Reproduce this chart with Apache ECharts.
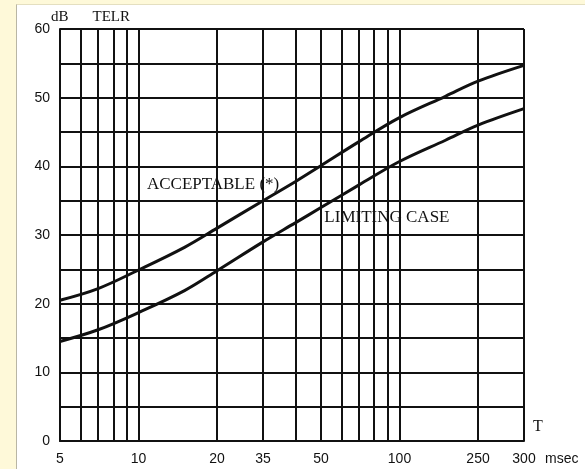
<!DOCTYPE html>
<html>
<head>
<meta charset="utf-8">
<script src="https://cdn.jsdelivr.net/npm/echarts@6/dist/echarts.min.js"></script>
<style>
  html, body { margin: 0; padding: 0; width: 585px; height: 469px; background: #fef9d9; overflow: hidden; }
  #panel { position: absolute; left: 16px; top: 4px; right: 0; bottom: 0; background: #ffffff;
           border-left: 1px solid #b9b6a4; border-top: 1px solid #e4dfc0; }
  #chart { position: absolute; left: 0; top: 0; width: 585px; height: 469px; }
</style>
</head>
<body>
<div id="panel"></div>
<div id="chart"></div>
<script>
// Echo delay T (msec) against talker echo loudness rating TELR (dB)
const delayT     = [5,    7,    10,   15,   20,   30,   40,   50,   70,   100,  150,  200,  300];
const acceptable = [20.5, 22.2, 24.9, 28.2, 31.0, 35.0, 37.8, 40.1, 43.6, 47.1, 50.2, 52.4, 54.7];
const limiting   = [14.5, 16.2, 18.7, 21.9, 24.8, 29.0, 31.8, 34.0, 37.3, 40.7, 43.8, 46.0, 48.4];

// Log-scale rulings and the printed labels under them
const gridT = [6, 7, 8, 9, 10, 20, 30, 40, 50, 60, 70, 80, 90, 100, 200, 300];
const tickValues = [5, 10, 20, 30, 50, 100, 200, 300];
const tickLabels = ['5', '10', '20', '35', '50', '100', '250', '300'];

// Curve captions, placed in data coordinates [T, dB]
const captionAcceptable = { text: 'ACCEPTABLE (*)', at: [19.3, 37.4] };
const captionLimiting = { text: 'LIMITING CASE', at: [89.5, 32.5] };

const serif = '"Liberation Serif", "Times New Roman", serif';
const sans = '"Liberation Sans", Arial, sans-serif';
const ink = '#111111';

function labelFor(v) {
  let best = 0;
  for (let i = 1; i < tickValues.length; i++) {
    if (Math.abs(Math.log(tickValues[i] / v)) < Math.abs(Math.log(tickValues[best] / v))) best = i;
  }
  return tickLabels[best];
}

const chart = echarts.init(document.getElementById('chart'), null, { renderer: 'canvas' });

const caption = (c) => ({
  coord: c.at,
  symbol: 'rect',
  symbolSize: 0,
  label: {
    show: true, position: 'inside', formatter: c.text,
    fontFamily: serif, fontSize: 17, color: ink
  }
});

chart.setOption({
  backgroundColor: 'transparent',
  animation: false,
  grid: { left: 60, right: 61, top: 29, bottom: 28, containLabel: false, outerBoundsMode: 'none' },
  xAxis: {
    type: 'log',
    logBase: 10,
    min: 5,
    max: 300,
    name: '{t|T}\n{m|msec}',
    nameLocation: 'end',
    nameGap: 8,
    nameMoveOverlap: false,
    nameTextStyle: {
      align: 'left',
      padding: [4, 0, 0, 0],
      rich: {
        t: { fontFamily: serif, fontSize: 16, color: ink, lineHeight: 32, padding: [0, 0, 0, 1] },
        m: { fontFamily: sans, fontSize: 14, color: ink, lineHeight: 32, padding: [0, 0, 0, 13] }
      }
    },
    axisLine: { show: true, lineStyle: { color: ink, width: 2 } },
    axisTick: { show: false },
    splitLine: { show: false },
    minorTick: { show: false },
    minorSplitLine: { show: false },
    axisLabel: {
      customValues: tickValues,
      formatter: (v) => labelFor(v),
      fontFamily: sans, fontSize: 14, color: ink, margin: 11,
      showMinLabel: true, showMaxLabel: true, hideOverlap: false
    }
  },
  yAxis: {
    type: 'value',
    min: 0,
    max: 60,
    interval: 5,
    name: '{a|dB}{b|TELR}',
    nameLocation: 'end',
    nameGap: 4,
    nameMoveOverlap: false,
    nameTextStyle: {
      align: 'left',
      rich: {
        a: { fontFamily: serif, fontSize: 15, color: ink, padding: [0, 0, 0, -9] },
        b: { fontFamily: serif, fontSize: 15, color: ink, padding: [0, 0, 0, 24] }
      }
    },
    axisLine: { show: true, lineStyle: { color: ink, width: 2 } },
    axisTick: { show: false },
    splitLine: { show: true, lineStyle: { color: ink, width: 2 } },
    axisLabel: {
      formatter: (v) => (v % 10 === 0 ? String(v) : ''),
      fontFamily: sans, fontSize: 14, color: ink, margin: 10
    }
  },
  series: [
    {
      name: 'ACCEPTABLE (*)',
      type: 'line',
      data: delayT.map((t, i) => [t, acceptable[i]]),
      smooth: 0.35,
      showSymbol: false,
      symbol: 'none',
      lineStyle: { color: ink, width: 3 },
      z: 5,
      markLine: {
        silent: true,
        symbol: ['none', 'none'],
        label: { show: false },
        lineStyle: { color: ink, width: 2, type: 'solid' },
        data: gridT.map((t) => ({ xAxis: t })),
        z: 1
      },
      markPoint: { silent: true, data: [caption(captionAcceptable)] }
    },
    {
      name: 'LIMITING CASE',
      type: 'line',
      data: delayT.map((t, i) => [t, limiting[i]]),
      smooth: 0.35,
      showSymbol: false,
      symbol: 'none',
      lineStyle: { color: ink, width: 3 },
      z: 5,
      markPoint: { silent: true, data: [caption(captionLimiting)] }
    }
  ]
});
</script>
</body>
</html>
